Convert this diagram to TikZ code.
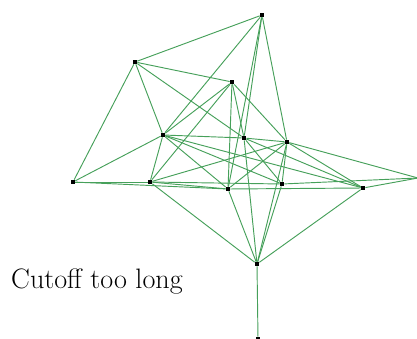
\documentclass[tikz,border=0pt]{standalone}
\usepackage{tikz}
\usetikzlibrary{positioning,backgrounds}
\definecolor{edgecolor}{RGB}{70,160,90}

\tikzset{
  vertex/.style={draw=none,fill=black,rectangle,minimum size=3.6pt,inner sep=0pt},
  link/.style={edgecolor,line width=0.8pt}
}

\begin{document}
\begin{tikzpicture}[x=0.03cm,y=-0.03cm]
\useasboundingbox (0,0) rectangle (417,339);
\foreach \n/\x/\y in {a/262/15, b/135/62, c/232/82, d/163/135, e/244/138,
    f/287/142, g/73/182, h/150/182, i/228/189, j/282/184, k/363/188,
    l/257/264, m/258/339} {
    \node[vertex] (\n) at (\x,\y) {};
}
\coordinate (r) at (418,178);
\begin{scope}[on background layer]
\foreach \u/\v in {a/b, a/d, a/i, a/e, a/f,
    b/c, b/g, b/d, b/e,
    c/d, c/h, c/i, c/e, c/f,
    d/e, d/g, d/h, d/i, d/j, d/k,
    e/f, e/j, e/k, e/l,
    f/h, f/i, f/j, f/k, f/l, f/r,
    g/h, g/i, h/i, h/j, h/l,
    i/k, i/l, j/l, j/r, k/l, k/r, l/m} {
    \draw[link] (\u) -- (\v);
}
\end{scope}
\node[anchor=base west,inner sep=0pt,font=\fontsize{24}{28}\selectfont] (cap) at (11,288) {Cutoff too long};
\end{tikzpicture}
\end{document}
